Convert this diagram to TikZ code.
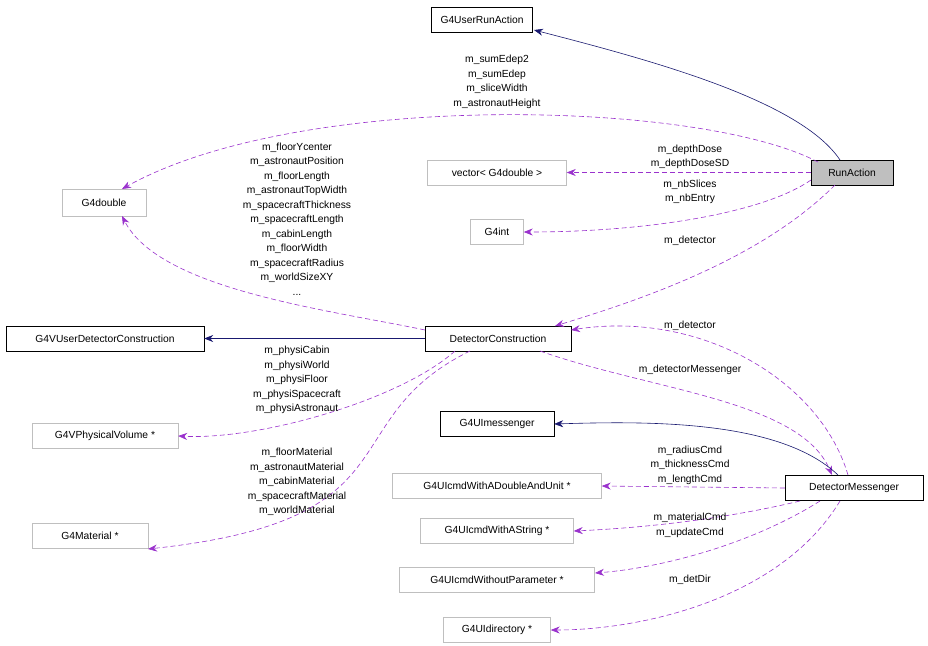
\documentclass[tikz,border=0pt]{standalone}
\usepackage{fontspec}
\setmainfont{Liberation Sans}
\usetikzlibrary{arrows.meta}
\definecolor{edgep}{HTML}{9A32CD}
\definecolor{navyc}{HTML}{191970}
\definecolor{grayb}{HTML}{BFBFBF}
\definecolor{fillg}{HTML}{BFBFBF}
\begin{document}
\begin{tikzpicture}[x=1pt,y=-1pt,
  every node/.style={font=\fontsize{10.3}{14.5}\selectfont},
  box/.style={draw=black,fill=white,minimum height=25pt,inner sep=0pt,anchor=center},
  gbox/.style={box,draw=grayb},
  lab/.style={align=center,inner sep=0pt,text=black},
  use/.style={draw=edgep,dash pattern=on 5pt off 3pt,-{Stealth[length=9pt,width=7pt]},line width=0.6pt},
  inh/.style={draw=navyc,-{Stealth[length=9pt,width=7pt]},line width=0.6pt}]
\fill[white] (0,0) rectangle (928,645);
\node[box,minimum width=101pt] (ura) at (482,19.5) {G4UserRunAction};
\node[box,minimum width=82pt,fill=fillg] (ra) at (852,172.5) {RunAction};
\node[gbox,minimum width=84pt,minimum height=27pt] (dbl) at (104,202.5) {G4double};
\node[gbox,minimum width=139pt] (vec) at (497,172.5) {vector< G4double >};
\node[gbox,minimum width=53pt] (int) at (497,232) {G4int};
\node[box,minimum width=198pt] (vudc) at (105,338.5) {G4VUserDetectorConstruction};
\node[box,minimum width=146pt] (dc) at (498,338.5) {DetectorConstruction};
\node[gbox,minimum width=146pt] (pv) at (105,436) {G4VPhysicalVolume *};
\node[box,minimum width=114pt] (uim) at (497,424) {G4UImessenger};
\node[gbox,minimum width=209pt] (cdu) at (497,486) {G4UIcmdWithADoubleAndUnit *};
\node[box,minimum width=138pt] (dm) at (854,488) {DetectorMessenger};
\node[gbox,minimum width=153pt] (cs) at (497,531) {G4UIcmdWithAString *};
\node[gbox,minimum width=195pt] (cwp) at (497,580) {G4UIcmdWithoutParameter *};
\node[gbox,minimum width=116pt] (mat) at (90,536) {G4Material *};
\node[gbox,minimum width=107pt] (dir) at (497,630) {G4UIdirectory *};
\coordinate (raT) at (840,160);
\coordinate (raL) at (818,162);
% edges
\draw[inh] (raT) .. controls (800,100) and (650,60) .. (534,30);
\draw[use] (raL) .. controls (700,100) and (300,90) .. (122,189);
\node[lab] at (497,82) {m\_sumEdep2\\m\_sumEdep\\m\_sliceWidth\\m\_astronautHeight};
\draw[use] (ra.west) -- (vec.east);
\node[lab] at (690,157) {m\_depthDose\\m\_depthDoseSD};
\draw[use] (811,180) .. controls (760,215) and (640,232) .. (int.east);
\node[lab] at (690,192) {m\_nbSlices\\m\_nbEntry};
\draw[use] (835,185) .. controls (760,260) and (640,300) .. (555,326);
\node[lab] at (690,241) {m\_detector};
\draw[use] (425,330) .. controls (330,310) and (160,290) .. (122,216);
\node[lab] at (297,219) {m\_floorYcenter\\m\_astronautPosition\\m\_floorLength\\m\_astronautTopWidth\\m\_spacecraftThickness\\m\_spacecraftLength\\m\_cabinLength\\m\_floorWidth\\m\_spacecraftRadius\\m\_worldSizeXY\\...};
\draw[inh] (dc.west) -- (vudc.east);
\draw[use] (455,351) .. controls (400,400) and (260,440) .. (pv.east);
\node[lab] at (297,380) {m\_physiCabin\\m\_physiWorld\\m\_physiFloor\\m\_physiSpacecraft\\m\_physiAstronaut};
\draw[use] (470,351) .. controls (330,420) and (420,520) .. (148,549);
\node[lab] at (297,482) {m\_floorMaterial\\m\_astronautMaterial\\m\_cabinMaterial\\m\_spacecraftMaterial\\m\_worldMaterial};
\draw[use] (848,475) .. controls (820,380) and (700,310) .. (571,330);
\node[lab] at (690,326) {m\_detector};
\draw[use] (540,351) .. controls (650,390) and (800,400) .. (832,475);
\node[lab] at (690,370) {m\_detectorMessenger};
\draw[inh] (838,475) .. controls (780,420) and (650,421) .. (uim.east);
\draw[use] (dm.west) -- (cdu.east);
\node[lab] at (690,465) {m\_radiusCmd\\m\_thicknessCmd\\m\_lengthCmd};
\draw[use] (800,501) .. controls (720,520) and (640,528) .. (cs.east);
\node[lab] at (690,518) {m\_materialCmd};
\draw[use] (820,501) .. controls (750,545) and (660,568) .. (595,573);
\node[lab] at (690,533) {m\_updateCmd};
\draw[use] (840,501) .. controls (780,600) and (640,630) .. (dir.east);
\node[lab] at (690,580) {m\_detDir};
\end{tikzpicture}
\end{document}
